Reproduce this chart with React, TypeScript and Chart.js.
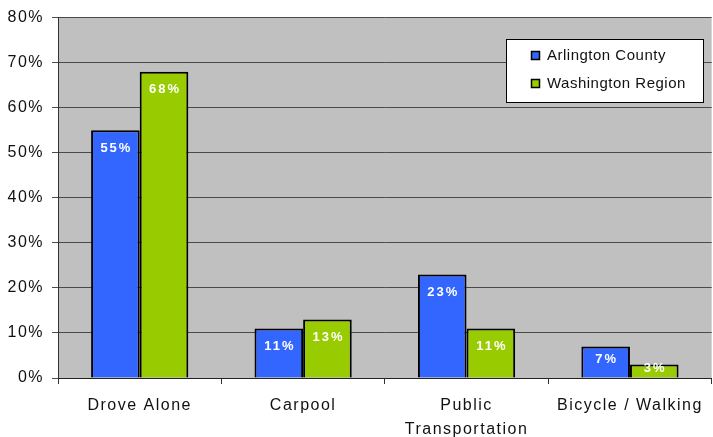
import React, { useEffect, useRef } from 'react';
import { Chart, registerables } from 'chart.js';
Chart.register(...registerables);

const categories: string[][] = [['Drove Alone'], ['Carpool'], ['Public', 'Transportation'], ['Bicycle / Walking']];
const arlington = [55, 11, 23, 7];
const washington = [68, 13, 11, 3];
const seriesNames = ['Arlington County', 'Washington Region'];
const seriesColors = ['#3366FF', '#99CC00'];
const yMin = 0;
const yMax = 80;
const yStep = 10;

const FONT = 'Arial, "Liberation Sans", sans-serif';

const customPlugin = {
  id: 'custom',
  beforeUpdate(chart: any) {
    chart.ctx.letterSpacing = '1.5px';
  },
  beforeDraw(chart: any) {
    const { ctx, chartArea } = chart;
    ctx.save();
    ctx.fillStyle = '#C0C0C0';
    ctx.fillRect(chartArea.left, chartArea.top, chartArea.right - chartArea.left, chartArea.bottom - chartArea.top);
    ctx.restore();
    ctx.letterSpacing = '1.5px';
  },
  beforeDatasetsDraw(chart: any) {
    chart.ctx.letterSpacing = '0px';
  },
  afterDatasetsDraw(chart: any) {
    const { ctx } = chart;
    ctx.save();
    ctx.font = `bold 13px ${FONT}`;
    ctx.letterSpacing = '2px';
    ctx.fillStyle = '#FFFFFF';
    ctx.textAlign = 'center';
    ctx.textBaseline = 'middle';
    chart.data.datasets.forEach((ds: any, di: number) => {
      const meta = chart.getDatasetMeta(di);
      meta.data.forEach((el: any, i: number) => {
        const top = el.y;
        const h = el.base - el.y;
        const y = top + Math.min(18, h / 2 - 3);
        ctx.fillText(ds.data[i] + '%', el.x + 1, y);
      });
    });
    ctx.restore();

    // legend
    ctx.save();
    const lx = 506, ly = 39, lw = 197, lh = 63;
    ctx.fillStyle = '#FFFFFF';
    ctx.fillRect(lx, ly, lw, lh);
    ctx.strokeStyle = '#000';
    ctx.lineWidth = 1;
    ctx.strokeRect(lx + 0.5, ly + 0.5, lw, lh);
    ctx.font = `15px ${FONT}`;
    ctx.letterSpacing = '0.5px';
    ctx.textAlign = 'left';
    ctx.textBaseline = 'middle';
    seriesNames.forEach((name, i) => {
      const cy = 55 + i * 28;
      ctx.fillStyle = seriesColors[i];
      ctx.fillRect(531, cy - 4, 9, 9);
      ctx.strokeStyle = '#000';
      ctx.lineWidth = 1.5;
      ctx.strokeRect(531.5, cy - 3.5, 8, 8);
      ctx.fillStyle = '#111';
      ctx.fillText(name, 547, cy + 1);
    });
    ctx.restore();
  },
};

export default function App() {
  const ref = useRef<HTMLCanvasElement>(null);
  useEffect(() => {
    document.body.style.margin = '0';
    const chart = new Chart(ref.current!, {
      type: 'bar',
      data: {
        labels: categories,
        datasets: [
          {
            label: seriesNames[0],
            data: arlington,
            backgroundColor: seriesColors[0],
            borderColor: '#000',
            borderWidth: 2,
          },
          {
            label: seriesNames[1],
            data: washington,
            backgroundColor: seriesColors[1],
            borderColor: '#000',
            borderWidth: 2,
          },
        ],
      },
      options: {
        animation: false,
        responsive: false,
        maintainAspectRatio: false,
        devicePixelRatio: 1,
        layout: { padding: { top: 16, right: 1, left: 0, bottom: 0 } },
        datasets: { bar: { categoryPercentage: 0.595, barPercentage: 1 } },
        plugins: { legend: { display: false }, tooltip: { enabled: false } },
        scales: {
          x: {
            offset: true,
            grid: { drawOnChartArea: false, offset: true, tickLength: 6, color: '#333' },
            border: { color: '#222', width: 1 },
            ticks: {
              color: '#111',
              font: { family: FONT, size: 16, lineHeight: 1.5 },
              padding: 10,
              maxRotation: 0,
              autoSkip: false,
            },
            afterFit(scale: any) {
              scale.height = 59;
            },
          },
          y: {
            min: yMin,
            max: yMax,
            grid: { color: '#4a4a4a', tickLength: 6 },
            border: { color: '#333', width: 1 },
            ticks: {
              stepSize: yStep,
              color: '#111',
              font: { family: FONT, size: 16 },
              padding: 8,
              callback: (v: any) => v + '%',
            },
            afterFit(scale: any) {
              scale.width = 58;
            },
          },
        },
      },
      plugins: [customPlugin],
    });
    return () => chart.destroy();
  }, []);
  return (
    <div style={{ position: 'absolute', left: 0, top: 0, width: 713, height: 437 }}>
      <canvas ref={ref} width={713} height={437} style={{ width: 713, height: 437 }} />
    </div>
  );
}
